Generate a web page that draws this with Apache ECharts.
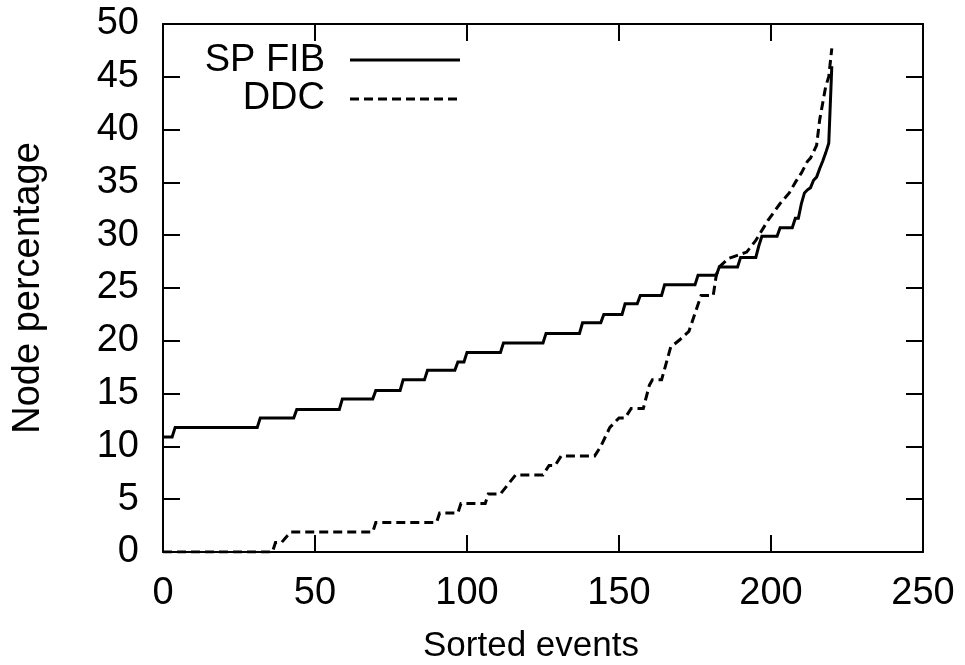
<!DOCTYPE html>
<html>
<head>
<meta charset="utf-8">
<script src="https://cdn.jsdelivr.net/npm/echarts@6/dist/echarts.min.js"></script>
<style>html,body{margin:0;padding:0;background:#fff}#c{width:965px;height:665px}</style>
</head>
<body>
<div id="c"></div>
<script>
// Data (x = sorted event index, y = node percentage)
var spFibX = [0,3,4,31,32,43,44,58,59,69,70,78,79,86,87,96,97,99,100,111,112,125,126,137,138,144,145,151,152,156,157,164,165,175,176,182,183,189,190,195,196,197,202,203,207,208,209,210,211,212,213,214,215,216,217,218,219,220];
var spFibY = [10.9,10.9,11.8,11.8,12.7,12.7,13.5,13.5,14.5,14.5,15.3,15.3,16.3,16.3,17.2,17.2,18.0,18.0,18.9,18.9,19.8,19.8,20.7,20.7,21.7,21.7,22.5,22.5,23.5,23.5,24.3,24.3,25.3,25.3,26.2,26.2,27.0,27.0,27.9,27.9,29.0,29.9,29.9,30.7,30.7,31.6,31.6,33.0,34.0,34.3,34.5,35.2,35.5,36.3,37.0,37.8,38.7,46.0];
var ddcX = [0,36,37,39,42,69,70,90,91,97,98,106,107,111,116,125,127,129,131,142,144,147,150,152,154,158,160,161,164,167,170,173,175,177,181,182,183,186,188,192,195,199,203,206,208,210,212,213,215,216,218,219,220];
var ddcY = [0,0,0.9,0.9,1.9,1.9,2.8,2.8,3.7,3.7,4.6,4.6,5.5,5.5,7.3,7.3,8.2,8.2,9.1,9.1,10.0,11.8,12.7,12.7,13.6,13.6,15.8,16.3,16.3,19.4,20.1,20.9,22.6,24.3,24.3,26.2,27.0,27.8,28.0,28.4,29.5,31.4,33.0,34.0,35.0,35.9,37.0,37.3,38.5,40.9,44.1,45.0,47.7];
var seriesNames = ['SP FIB', 'DDC'];
var xName = 'Sorted events';
var yName = 'Node percentage';

function pairs(xs, ys) { return xs.map(function (x, i) { return [x, ys[i]]; }); }

var FONT = 'Liberation Sans, Arial, sans-serif';
var FS = 38;
function tick() { return { show: true, inside: true, length: 17, lineStyle: { color: '#000', width: 2 } }; }
function axLine() { return { show: true, onZero: false, lineStyle: { color: '#000', width: 2 } }; }

var chart = echarts.init(document.getElementById('c'), null, { renderer: 'canvas' });
chart.setOption({
  backgroundColor: '#fff',
  animation: false,
  grid: { left: 163, right: 42, top: 24, bottom: 113, containLabel: false, outerBoundsMode: 'none' },
  xAxis: [{
    type: 'value', min: 0, max: 250, interval: 50,
    name: xName, nameLocation: 'middle', nameGap: 77,
    nameTextStyle: { fontFamily: FONT, fontSize: 35, color: '#000', padding: [0, 24, 0, 0] },
    axisLine: axLine(), axisTick: tick(), splitLine: { show: false },
    axisLabel: { fontFamily: FONT, fontSize: FS, color: '#000', margin: 23 }
  }, {
    type: 'value', position: 'top', min: 0, max: 250, interval: 50,
    axisLine: axLine(), axisTick: tick(), splitLine: { show: false },
    axisLabel: { show: false }
  }],
  yAxis: [{
    type: 'value', min: 0, max: 50, interval: 5,
    name: yName, nameLocation: 'middle', nameGap: 115,
    nameTextStyle: { fontFamily: FONT, fontSize: FS, color: '#000' },
    axisLine: axLine(), axisTick: tick(), splitLine: { show: false },
    axisLabel: { fontFamily: FONT, fontSize: FS, color: '#000', margin: 24 }
  }, {
    type: 'value', position: 'right', min: 0, max: 50, interval: 5,
    axisLine: axLine(), axisTick: tick(), splitLine: { show: false },
    axisLabel: { show: false }
  }],
  series: [{
    name: seriesNames[0], type: 'line', data: pairs(spFibX, spFibY),
    showSymbol: false, symbol: 'none', xAxisIndex: 0, yAxisIndex: 0,
    lineStyle: { color: '#000', width: 3, type: 'solid', join: 'miter' }
  }, {
    name: seriesNames[1], type: 'line', data: pairs(ddcX, ddcY),
    showSymbol: false, symbol: 'none', xAxisIndex: 0, yAxisIndex: 0,
    lineStyle: { color: '#000', width: 3, type: [9, 5], join: 'miter' }
  }],
  graphic: [
    { type: 'text', style: { text: seriesNames[0], x: 325, y: 61, align: 'right', verticalAlign: 'middle', font: FS + 'px ' + FONT, fill: '#000' } },
    { type: 'line', shape: { x1: 350, y1: 60, x2: 460, y2: 60 }, style: { stroke: '#000', lineWidth: 3 } },
    { type: 'text', style: { text: seriesNames[1], x: 325, y: 99, align: 'right', verticalAlign: 'middle', font: FS + 'px ' + FONT, fill: '#000' } },
    { type: 'line', shape: { x1: 350, y1: 99, x2: 460, y2: 99 }, style: { stroke: '#000', lineWidth: 3, lineDash: [9, 5] } }
  ]
});
</script>
</body>
</html>
